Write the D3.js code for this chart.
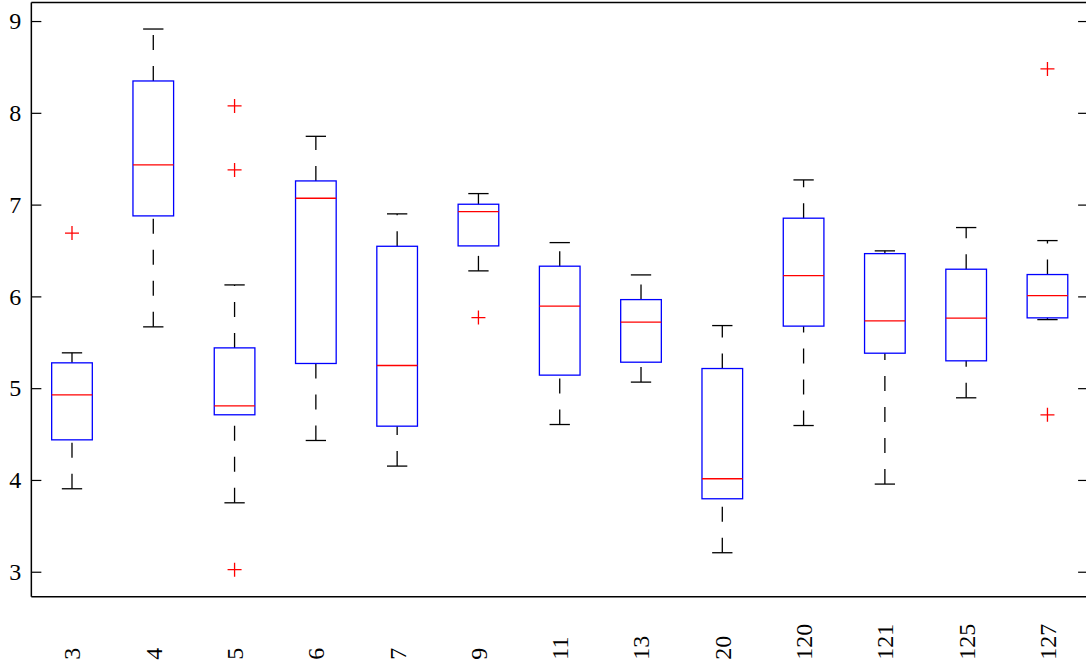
<!DOCTYPE html>
<html>
<head>
<meta charset="utf-8">
<script src="https://cdn.jsdelivr.net/npm/d3@7"></script>
<style>
  html, body { margin: 0; padding: 0; background: #fff; }
  svg { display: block; }
</style>
</head>
<body>
<svg id="chart" width="1086" height="667"></svg>
<script>
// Group labels along the x axis
const categories = ["3", "4", "5", "6", "7", "9", "11", "13", "20", "120", "121", "125", "127"];

// Five-number summaries per group
const upperWhisker = [5.385, 8.913, 6.125, 7.744, 6.899, 7.120, 6.586, 6.234, 5.682, 7.269, 6.496, 6.750, 6.608];
const q3           = [5.276, 8.347, 5.439, 7.258, 6.546, 7.004, 6.329, 5.965, 5.214, 6.852, 6.466, 6.296, 6.238];
const medians      = [4.927, 7.432, 4.808, 7.069, 5.247, 6.924, 5.893, 5.719, 4.013, 6.227, 5.733, 5.763, 6.009];
const q1           = [4.437, 6.877, 4.710, 5.269, 4.586, 6.550, 5.142, 5.283, 3.795, 5.676, 5.381, 5.298, 5.766];
const lowerWhisker = [3.904, 5.668, 3.751, 4.430, 4.151, 6.278, 4.604, 5.066, 3.207, 4.593, 3.955, 4.895, 5.747];

// Points outside the whiskers
const outliers = [[6.69], [], [8.075, 7.378, 3.022], [], [], [5.769], [], [], [], [], [], [], [4.71, 8.478]];

// Y axis tick values
const yTicks = [3, 4, 5, 6, 7, 8, 9];

const svg = d3.select("#chart");

const plot = { left: 31.35, right: 1088.1, top: 2.5, bottom: 596.7 };

const x = d3.scaleLinear().domain([0.5, categories.length + 0.5]).range([plot.left, plot.right]);
const y = d3.scaleLinear().domain([2.728, 9.202]).range([plot.bottom, plot.top]);

const boxHalf = 0.25;   // half box width in group units
const capHalf = 0.125;  // half whisker cap width

const groups = categories.map((c, i) => ({
  name: c, pos: i + 1,
  hi: upperWhisker[i], q3: q3[i], med: medians[i], q1: q1[i], lo: lowerWhisker[i],
  out: outliers[i]
}));

const g = svg.append("g");

// Whiskers: dashed, drawn upward from the lower end
g.selectAll("line.whisker-up").data(groups).join("line")
  .attr("x1", d => x(d.pos)).attr("x2", d => x(d.pos))
  .attr("y1", d => y(d.q3)).attr("y2", d => y(d.hi))
  .attr("stroke", "#000").attr("stroke-width", 1.3).attr("stroke-dasharray", "15,16");
g.selectAll("line.whisker-down").data(groups).join("line")
  .attr("x1", d => x(d.pos)).attr("x2", d => x(d.pos))
  .attr("y1", d => y(d.lo)).attr("y2", d => y(d.q1))
  .attr("stroke", "#000").attr("stroke-width", 1.3).attr("stroke-dasharray", "15,16");

// Whisker caps
["hi", "lo"].forEach(k => {
  g.selectAll("line.cap-" + k).data(groups).join("line")
    .attr("x1", d => x(d.pos - capHalf)).attr("x2", d => x(d.pos + capHalf))
    .attr("y1", d => y(d[k])).attr("y2", d => y(d[k]))
    .attr("stroke", "#000").attr("stroke-width", 1.3);
});

// Boxes
g.selectAll("rect.box").data(groups).join("rect")
  .attr("x", d => x(d.pos - boxHalf))
  .attr("width", d => x(d.pos + boxHalf) - x(d.pos - boxHalf))
  .attr("y", d => y(d.q3))
  .attr("height", d => y(d.q1) - y(d.q3))
  .attr("fill", "none").attr("stroke", "#0000ff").attr("stroke-width", 1.3);

// Medians
g.selectAll("line.median").data(groups).join("line")
  .attr("x1", d => x(d.pos - boxHalf)).attr("x2", d => x(d.pos + boxHalf))
  .attr("y1", d => y(d.med)).attr("y2", d => y(d.med))
  .attr("stroke", "#ff0000").attr("stroke-width", 1.3);

// Outlier markers ("+")
const outPts = groups.flatMap(d => d.out.map(v => ({ pos: d.pos, v })));
g.selectAll("path.outlier").data(outPts).join("path")
  .attr("transform", d => `translate(${x(d.pos)},${y(d.v)})`)
  .attr("d", "M-7,0H7M0,-7V7")
  .attr("fill", "none").attr("stroke", "#ff0000").attr("stroke-width", 1.3);

// Axes
const leftAxis = d3.axisLeft(y).tickValues(yTicks).tickSize(-10).tickPadding(10).tickFormat(d3.format("d"));
const la = svg.append("g").attr("transform", `translate(${plot.left},0)`).call(leftAxis);
la.select(".domain").attr("d", `M0,${plot.top}V${plot.bottom}`);

const rightAxis = d3.axisRight(y).tickValues(yTicks).tickSize(-10).tickFormat("");
const ra = svg.append("g").attr("transform", `translate(${plot.right},0)`).call(rightAxis);
ra.select(".domain").attr("d", `M0,${plot.top}V${plot.bottom}`);

const bottomAxis = d3.axisBottom(x).tickValues(groups.map(d => d.pos)).tickSize(0)
  .tickFormat(p => categories[p - 1]);
const ba = svg.append("g").attr("transform", `translate(0,${plot.bottom})`).call(bottomAxis);
ba.select(".domain").attr("d", `M${plot.left},0H${plot.right}`);
ba.selectAll(".tick text")
  .attr("x", 0).attr("y", 0).attr("dy", "0.33em")
  .attr("text-anchor", "start")
  .attr("transform", "translate(0,63) rotate(-90)");

svg.append("line")
  .attr("x1", plot.left).attr("x2", plot.right)
  .attr("y1", plot.top).attr("y2", plot.top)
  .attr("stroke", "#000").attr("stroke-width", 1.4);

svg.selectAll(".domain").attr("stroke", "#000").attr("stroke-width", 1.5);
svg.selectAll(".tick line").attr("stroke", "#000").attr("stroke-width", 1.2);
svg.selectAll("g.tick text")
  .style("font-family", "'Liberation Serif', 'DejaVu Serif', serif")
  .style("font-size", "24px")
  .attr("fill", "#000");
</script>
</body>
</html>
